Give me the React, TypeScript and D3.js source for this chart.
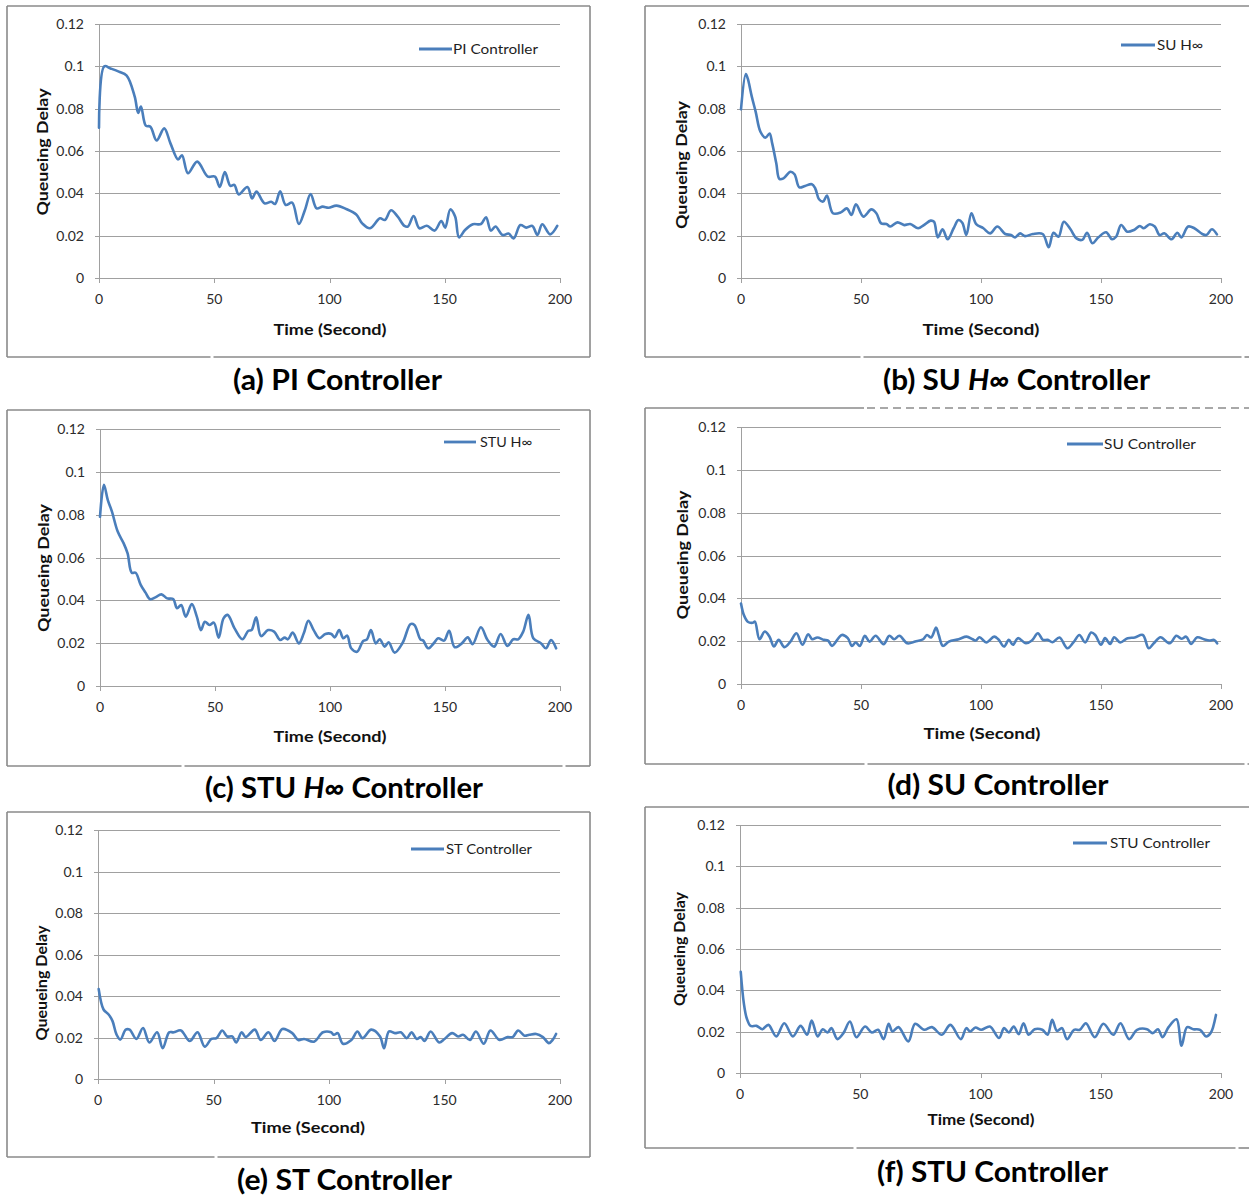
import React from 'react';
import * as d3 from 'd3';

// Shared axis definitions
const timeDomain: [number, number] = [0, 200];
const delayDomain: [number, number] = [0, 0.12];
const timeTicks = [0, 50, 100, 150, 200];
const delayTicks = [0, 0.02, 0.04, 0.06, 0.08, 0.1, 0.12];
const delayTickLabels = ['0', '0.02', '0.04', '0.06', '0.08', '0.1', '0.12'];

// Queueing delay (s) against time (s) for each controller
const piSeries: [number, number][] = [
  [0, 0.071], [2.3, 0.1], [5, 0.099], [8.6, 0.0975], [12, 0.0956], [15.5, 0.0857], [17, 0.078], [18.2, 0.081],
  [20.3, 0.072], [22.3, 0.0715], [25, 0.065], [28.3, 0.0707], [31, 0.0636], [34.3, 0.056], [36, 0.058],
  [38.6, 0.0495], [42.6, 0.055], [47.2, 0.0479], [50.3, 0.0479], [52.4, 0.043], [54.6, 0.05], [57, 0.0435],
  [58.7, 0.044], [60.6, 0.0395], [64.4, 0.043], [66.4, 0.0376], [68.3, 0.0408], [71.8, 0.0353], [74.7, 0.036],
  [76.4, 0.035], [78.6, 0.041], [81, 0.0345], [83.8, 0.0356], [86.7, 0.0255], [89.3, 0.032], [91.8, 0.0397],
  [94.4, 0.0329], [97, 0.0337], [99.6, 0.0332], [103, 0.0342], [107.3, 0.0326], [111.6, 0.03], [114.2, 0.0258],
  [117.6, 0.0235], [121.9, 0.0282], [124, 0.0274], [126.7, 0.032], [129.6, 0.029], [132.5, 0.0246], [134, 0.0243],
  [136.5, 0.0293], [139, 0.0235], [142.2, 0.0247], [145.6, 0.0224], [148.5, 0.0269], [150.2, 0.0238],
  [152.4, 0.0324], [154.5, 0.029], [156.2, 0.0192], [158.8, 0.0227], [162.2, 0.0254], [165.7, 0.0255],
  [167.9, 0.0287], [170, 0.0224], [172, 0.0243], [175.1, 0.0203], [177.7, 0.021], [179.9, 0.0187],
  [182.8, 0.025], [185.4, 0.0238], [188, 0.0246], [190.2, 0.0203], [192.3, 0.0254], [195.7, 0.0206],
  [198.8, 0.0246],
];

const suHinfSeries: [number, number][] = [
  [0, 0.0797], [2, 0.0964], [2.8, 0.0943], [4.5, 0.0857], [6.1, 0.0786], [8.1, 0.0691], [10.2, 0.0663],
  [11.9, 0.0683], [13, 0.0636], [14.7, 0.0542], [16, 0.0468], [17.7, 0.0471], [20.6, 0.0502], [22.3, 0.049],
  [24.3, 0.0428], [26.7, 0.0435], [29.5, 0.0443], [30.9, 0.0424], [32.5, 0.0372], [34.2, 0.0361], [35.8, 0.0389],
  [38.3, 0.0306], [41.6, 0.031], [44.1, 0.0329], [46, 0.0298], [47.9, 0.0348], [51, 0.029], [54.3, 0.0324],
  [56.4, 0.0306], [58.4, 0.0258], [60.6, 0.0255], [62.2, 0.0243], [65.2, 0.0263], [68, 0.025], [70.5, 0.0255],
  [73.8, 0.0235], [76.2, 0.025], [79, 0.0271], [80.4, 0.0266], [82, 0.0192], [84, 0.023], [86.1, 0.0183],
  [88.6, 0.0235], [90.6, 0.0274], [92.2, 0.0261], [93.9, 0.0203], [96, 0.0306], [98, 0.0255], [101, 0.0235],
  [103.8, 0.0211], [106.8, 0.0243], [110.1, 0.0208], [112.5, 0.0203], [114.2, 0.0192], [116.3, 0.0211],
  [118.3, 0.0198], [121.6, 0.0208], [125.7, 0.0208], [128.2, 0.0145], [130.2, 0.0214], [132.3, 0.0195],
  [134.5, 0.0266], [137.3, 0.023], [139.8, 0.0187], [142.2, 0.018], [144.2, 0.0214], [146.4, 0.0164],
  [148.9, 0.0192], [152.1, 0.0216], [154.6, 0.0183], [156.3, 0.0195], [158.4, 0.025], [160.9, 0.0219],
  [163.7, 0.0227], [166.2, 0.0246], [167.8, 0.0235], [170.3, 0.0254], [172.4, 0.0243], [174.4, 0.0203],
  [176.4, 0.0211], [179.4, 0.0183], [181.8, 0.0214], [183.5, 0.0192], [186.3, 0.0243], [188.9, 0.0235],
  [192.2, 0.0208], [193.9, 0.0203], [196.2, 0.023], [198.3, 0.0206],
];

const stuHinfSeries: [number, number][] = [
  [0, 0.079], [1.7, 0.0939], [3.4, 0.0868], [5.2, 0.0814], [7.7, 0.0721], [10.3, 0.0666], [12, 0.0619],
  [13.8, 0.0529], [15.5, 0.0529], [17.7, 0.0472], [19.8, 0.0436], [21.8, 0.0405], [24.1, 0.0414],
  [26.7, 0.0428], [29.2, 0.0409], [31.8, 0.0406], [33.5, 0.0363], [35.3, 0.0378], [37.3, 0.0324],
  [39.9, 0.0383], [42.1, 0.0324], [43.9, 0.0261], [45.6, 0.03], [47.6, 0.0285], [49.5, 0.0296], [51.6, 0.0226],
  [53.7, 0.0316], [55.5, 0.0332], [58.5, 0.0269], [61.9, 0.0218], [64.5, 0.0258], [65.9, 0.0261], [67.9, 0.0321],
  [70, 0.0233], [73.1, 0.0261], [75.7, 0.0254], [78.3, 0.0215], [80.3, 0.0226], [81.7, 0.0218], [83.8, 0.0249],
  [86.5, 0.0199], [88.6, 0.0246], [90.6, 0.0305], [92.9, 0.0261], [95.4, 0.0223], [98, 0.0243], [100.6, 0.0243],
  [102, 0.0227], [104, 0.0261], [105.8, 0.0223], [107.5, 0.0235], [109.2, 0.0176], [111.8, 0.016],
  [114.4, 0.021], [116.1, 0.0218], [117.8, 0.0261], [119.9, 0.0199], [121.6, 0.0218], [123.8, 0.0184],
  [125.5, 0.0204], [128.1, 0.0156], [131.6, 0.0202], [135, 0.0289], [136.7, 0.0285], [139.3, 0.0218],
  [140.5, 0.0212], [142.7, 0.0176], [145.3, 0.0202], [147, 0.0223], [149.6, 0.0212], [151.8, 0.0258],
  [154.2, 0.0181], [157.3, 0.0199], [159.9, 0.0227], [162, 0.0195], [165.6, 0.0274], [168.5, 0.0215],
  [171.4, 0.0184], [174.2, 0.0243], [177.1, 0.0187], [179.7, 0.0218], [181.8, 0.0218], [184, 0.0254],
  [186.3, 0.0332], [188.4, 0.0223], [191.8, 0.0199], [193.9, 0.0176], [196.1, 0.0215], [198.3, 0.0176],
];

const suSeries: [number, number][] = [
  [0, 0.0376], [1.2, 0.0322], [2.8, 0.0291], [4.9, 0.0286], [5.8, 0.0291], [7.7, 0.0209], [9.9, 0.0245],
  [11.9, 0.0221], [13.7, 0.0175], [15.7, 0.0206], [18.1, 0.0172], [20.6, 0.0198], [23.1, 0.0237], [25.6, 0.0183],
  [28, 0.0232], [29.7, 0.0209], [31.8, 0.0217], [34.6, 0.0206], [36.3, 0.0203], [37.9, 0.0178], [42, 0.0229],
  [44.5, 0.0214], [46.2, 0.0178], [47.8, 0.0194], [49.5, 0.0178], [51.6, 0.0225], [53.6, 0.0198], [56.1, 0.0225],
  [59.4, 0.0186], [61.8, 0.0225], [63.8, 0.0209], [66, 0.0225], [69.3, 0.019], [72.6, 0.0198], [75.9, 0.0209],
  [77.5, 0.0229], [79.2, 0.0217], [81.3, 0.0263], [82.4, 0.0229], [84.1, 0.0178], [86.6, 0.0198], [90.7, 0.0209],
  [94, 0.0221], [96.5, 0.0209], [97.8, 0.0203], [99.4, 0.0218], [102.2, 0.0194], [105.5, 0.0221], [107.2, 0.0209],
  [109.6, 0.0175], [111.6, 0.0206], [113.3, 0.0183], [115.4, 0.0214], [118.7, 0.019], [121.2, 0.0203],
  [123.7, 0.0237], [125.8, 0.0206], [127.8, 0.0206], [129.8, 0.0195], [132.7, 0.0217], [136, 0.0167],
  [138.5, 0.0194], [141, 0.0229], [143.4, 0.0194], [145.9, 0.024], [147.6, 0.0229], [150, 0.0183],
  [151.7, 0.0214], [153.8, 0.0187], [155.5, 0.0218], [158, 0.0194], [161.1, 0.0214], [164.1, 0.0217],
  [167.4, 0.0229], [169.9, 0.0167], [172, 0.019], [174.8, 0.0218], [178.6, 0.019], [181.4, 0.0225],
  [183.5, 0.0211], [185.5, 0.0221], [187.5, 0.0187], [190.1, 0.0218], [192.9, 0.0209], [195.1, 0.0203],
  [197.1, 0.0206], [198.4, 0.019],
];

const stSeries: [number, number][] = [
  [0.3, 0.0433], [2.4, 0.0335], [4.6, 0.0311], [6.3, 0.0279], [8, 0.0215], [9.7, 0.019], [12, 0.0238],
  [13.7, 0.0238], [16.6, 0.0193], [19.5, 0.0246], [22.2, 0.0176], [25.6, 0.0225], [28, 0.0148], [30.8, 0.0225],
  [32.8, 0.0225], [35.9, 0.0234], [39.7, 0.0183], [43.1, 0.0225], [46.2, 0.0156], [49.1, 0.0193], [51.3, 0.0197],
  [53.8, 0.0234], [55.9, 0.0205], [58.1, 0.0205], [59.8, 0.0176], [62.2, 0.0225], [63.9, 0.0202], [67.9, 0.0238],
  [70.4, 0.0188], [73.8, 0.0225], [76.4, 0.0183], [79.8, 0.0241], [84.1, 0.0221], [86.7, 0.0188], [89.2, 0.0193],
  [93.5, 0.018], [97.4, 0.0225], [100.9, 0.0225], [102.1, 0.0213], [103.8, 0.0221], [106, 0.017], [109.7, 0.0188],
  [112.3, 0.0229], [114.5, 0.0197], [118.3, 0.0238], [122.1, 0.0205], [123.8, 0.0148], [126, 0.0229],
  [128.5, 0.0221], [131.1, 0.0225], [133.7, 0.0197], [135.7, 0.0225], [138, 0.0193], [139.7, 0.0202],
  [141.4, 0.0183], [144, 0.0229], [147.7, 0.0176], [150, 0.0193], [153.3, 0.0221], [155.9, 0.0205],
  [158, 0.0213], [161, 0.0188], [163.6, 0.0229], [167, 0.017], [169.9, 0.0234], [173.8, 0.0188], [177.3, 0.0202],
  [179.5, 0.0202], [181.9, 0.0234], [184.6, 0.0209], [186.7, 0.0213], [189.7, 0.0217], [192.6, 0.0202],
  [195.2, 0.0173], [196.9, 0.019], [198.3, 0.0217],
];

const stuSeries: [number, number][] = [
  [0.3, 0.049], [1.6, 0.0337], [2.8, 0.0265], [4.4, 0.0228], [6.9, 0.0228], [9.3, 0.0212], [11.8, 0.0233],
  [15.1, 0.0177], [18.4, 0.0241], [22, 0.0177], [25.2, 0.0228], [27.9, 0.0185], [29.8, 0.0254], [32.3, 0.0177],
  [34.4, 0.0212], [36.4, 0.0196], [38, 0.0217], [40.5, 0.0164], [43, 0.0193], [45.7, 0.0249], [48.4, 0.0173],
  [52, 0.0225], [54.8, 0.0196], [57.4, 0.0209], [59.7, 0.0164], [61.8, 0.0238], [63.4, 0.0201], [65.9, 0.0222],
  [70, 0.0153], [72.8, 0.0238], [76.6, 0.0209], [79.8, 0.0222], [83.9, 0.0185], [87.5, 0.0233], [91.8, 0.0164],
  [94.1, 0.0217], [95.7, 0.0201], [97.9, 0.022], [100.3, 0.0209], [103.9, 0.0225], [107.7, 0.0169],
  [109.8, 0.0217], [111.8, 0.0196], [113.8, 0.0225], [115.9, 0.0188], [117.9, 0.0241], [120, 0.0185],
  [122.5, 0.0212], [125.7, 0.0209], [127.9, 0.0185], [129.8, 0.0257], [131.8, 0.0204], [133.9, 0.0217],
  [136, 0.0164], [138.9, 0.0209], [141.3, 0.0209], [143.8, 0.0241], [147.5, 0.0173], [151.1, 0.0238],
  [155.2, 0.0185], [158.2, 0.0241], [161.8, 0.0164], [165.1, 0.0209], [169.2, 0.0212], [171.6, 0.0193],
  [173.8, 0.0212], [175.7, 0.0173], [178.2, 0.0222], [181.5, 0.026], [183.6, 0.0132], [185.9, 0.0222],
  [188.5, 0.0212], [191.3, 0.0209], [193.8, 0.0177], [195.7, 0.0193], [197.9, 0.0281],
];

const seriesNames = ['PI Controller', 'SU H∞', 'STU H∞', 'SU Controller', 'ST Controller', 'STU Controller'];
const captionLabels = ['(a) PI ', '(b) SU ', '(c) STU ', '(d) SU ', '(e) ST ', '(f) STU '];
const captionItalic = ['', 'H∞', 'H∞', '', '', ''];
const yAxisTitle = 'Queueing Delay';
const xAxisTitle = 'Time (Second)';

type Box = { l: number; t: number; r: number; b: number };
type Layout = {
  frame: Box;
  bottomGaps: number[];
  dashedTopFrom?: number;
  plot: Box;
  legend: { x: number; y: number; len: number; tx: number; tw: number };
  yTitle: { x: number; y: number; w: number; size: number };
  xTitle: { x: number; y: number; w: number; size: number };
  caption: { x: number; y: number; w: number };
};

const layouts: Layout[] = [
  {
    frame: { l: 7, t: 6, r: 590, b: 357 }, bottomGaps: [212],
    plot: { l: 99, t: 24, r: 560, b: 278 },
    legend: { x: 419, y: 49, len: 33, tx: 453, tw: 85 },
    yTitle: { x: 48, y: 152, w: 127, size: 16 },
    xTitle: { x: 330, y: 335, w: 113, size: 16 },
    caption: { x: 337.5, y: 390, w: 209 },
  },
  {
    frame: { l: 645, t: 6, r: 1262, b: 357 }, bottomGaps: [862, 1243],
    plot: { l: 741, t: 24, r: 1221, b: 278 },
    legend: { x: 1121, y: 45, len: 34, tx: 1157, tw: 46 },
    yTitle: { x: 687, y: 165, w: 128, size: 16 },
    xTitle: { x: 981, y: 335, w: 117, size: 16 },
    caption: { x: 1016.5, y: 390, w: 267 },
  },
  {
    frame: { l: 7, t: 410, r: 590, b: 766 }, bottomGaps: [183, 564],
    plot: { l: 100, t: 429, r: 560, b: 686 },
    legend: { x: 444, y: 442, len: 32, tx: 480, tw: 52 },
    yTitle: { x: 49, y: 568, w: 128, size: 16 },
    xTitle: { x: 330, y: 742, w: 113, size: 16 },
    caption: { x: 344, y: 798, w: 278 },
  },
  {
    frame: { l: 645, t: 408, r: 1262, b: 764 }, bottomGaps: [866, 1246], dashedTopFrom: 864,
    plot: { l: 741, t: 427, r: 1221, b: 684 },
    legend: { x: 1067, y: 444, len: 36, tx: 1104, tw: 92 },
    yTitle: { x: 688, y: 555, w: 129, size: 16 },
    xTitle: { x: 982, y: 739, w: 117, size: 16 },
    caption: { x: 998, y: 795, w: 221 },
  },
  {
    frame: { l: 7, t: 812, r: 590, b: 1157 }, bottomGaps: [216],
    plot: { l: 98, t: 830, r: 560, b: 1079 },
    legend: { x: 411, y: 849, len: 33, tx: 446, tw: 86 },
    yTitle: { x: 47, y: 983, w: 115, size: 14.5 },
    xTitle: { x: 308, y: 1133, w: 114, size: 16 },
    caption: { x: 344.5, y: 1190, w: 215 },
  },
  {
    frame: { l: 645, t: 807, r: 1262, b: 1148 }, bottomGaps: [855, 1237],
    plot: { l: 740, t: 825, r: 1221, b: 1073 },
    legend: { x: 1073, y: 843, len: 34, tx: 1110, tw: 100 },
    yTitle: { x: 685, y: 949, w: 114, size: 14.5 },
    xTitle: { x: 981, y: 1125, w: 107, size: 15 },
    caption: { x: 992.5, y: 1182, w: 231 },
  },
];

const allSeries = [piSeries, suHinfSeries, stuHinfSeries, suSeries, stSeries, stuSeries];

const FONT = 'Lato, "Open Sans", sans-serif';
const LINE_COLOR = '#4a7ebb';
const GRID_COLOR = '#a0a0a0';
const FRAME_COLOR = '#8a8a8a';

function Frame({ lay }: { lay: Layout }) {
  const { frame, bottomGaps, dashedTopFrom } = lay;
  const stops = [frame.l, ...bottomGaps, frame.r];
  const bottomSegments = [] as [number, number][];
  for (let i = 0; i < stops.length - 1; i++) {
    const a = i === 0 ? stops[i] : stops[i] + 1.5;
    const b = i === stops.length - 2 ? stops[i + 1] : stops[i + 1] - 1.5;
    bottomSegments.push([a, b]);
  }
  const topEnd = dashedTopFrom ?? frame.r;
  return (
    <g stroke={FRAME_COLOR} strokeWidth={1.6} fill="none">
      <line x1={frame.l} y1={frame.t} x2={frame.l} y2={frame.b} />
      <line x1={frame.l} y1={frame.t} x2={topEnd} y2={frame.t} />
      {dashedTopFrom !== undefined && (
        <line x1={dashedTopFrom + 3} y1={frame.t} x2={frame.r} y2={frame.t} strokeDasharray="8 5" stroke="#8c8c8c" strokeWidth={1.4} />
      )}
      <line x1={frame.r} y1={frame.t} x2={frame.r} y2={frame.b} />
      {bottomSegments.map(([a, b], i) => (
        <line key={i} x1={a} y1={frame.b} x2={b} y2={frame.b} />
      ))}
    </g>
  );
}

function Panel({ index }: { index: number }) {
  const lay = layouts[index];
  const data = allSeries[index];
  const { plot } = lay;
  const x = d3.scaleLinear().domain(timeDomain).range([plot.l, plot.r]);
  const y = d3.scaleLinear().domain(delayDomain).range([plot.b, plot.t]);
  const path = d3
    .line<[number, number]>()
    .x((d) => x(d[0]))
    .y((d) => y(d[1]))
    .curve(d3.curveCatmullRom.alpha(0.5))(data) as string;

  return (
    <g>
      <Frame lay={lay} />
      {/* horizontal gridlines with short ticks left of the axis */}
      {delayTicks.map((v, i) => (
        <g key={'y' + i}>
          <line x1={plot.l - 4} x2={plot.r} y1={Math.round(y(v)) + 0.5} y2={Math.round(y(v)) + 0.5}
            stroke={GRID_COLOR} strokeWidth={1} />
          <text x={plot.l - 15} y={y(v) + 5} textAnchor="end" fontFamily={FONT} fontSize={14} fill="#2b2b2b">
            {delayTickLabels[i]}
          </text>
        </g>
      ))}
      {/* vertical axis */}
      <line x1={Math.round(plot.l) + 0.5} x2={Math.round(plot.l) + 0.5} y1={y(0.12)} y2={y(0) + 5}
        stroke={GRID_COLOR} strokeWidth={1} />
      {timeTicks.map((t, i) => (
        <g key={'x' + i}>
          <line x1={Math.round(x(t)) + 0.5} x2={Math.round(x(t)) + 0.5} y1={y(0)} y2={y(0) + 5}
            stroke={GRID_COLOR} strokeWidth={1} />
          <text x={x(t)} y={y(0) + 26} textAnchor="middle" fontFamily={FONT} fontSize={14} fill="#2b2b2b">
            {t}
          </text>
        </g>
      ))}
      {/* series */}
      <path d={path} fill="none" stroke={LINE_COLOR} strokeWidth={2.6} strokeLinejoin="round" strokeLinecap="round" />
      {/* legend */}
      <line x1={lay.legend.x} x2={lay.legend.x + lay.legend.len} y1={lay.legend.y} y2={lay.legend.y}
        stroke={LINE_COLOR} strokeWidth={2.8} />
      <text x={lay.legend.tx} y={lay.legend.y + 5} fontFamily={FONT} fontSize={14} fill="#1e1e1e"
        textLength={lay.legend.tw} lengthAdjust="spacingAndGlyphs">
        {seriesNames[index]}
      </text>
      {/* axis titles */}
      <text transform={`translate(${lay.yTitle.x},${lay.yTitle.y}) rotate(-90)`} textAnchor="middle"
        fontFamily={FONT} fontWeight={700} fontSize={lay.yTitle.size} fill="#111"
        textLength={lay.yTitle.w} lengthAdjust="spacingAndGlyphs">
        {yAxisTitle}
      </text>
      <text x={lay.xTitle.x} y={lay.xTitle.y} textAnchor="middle" fontFamily={FONT} fontWeight={700}
        fontSize={lay.xTitle.size} fill="#111" textLength={lay.xTitle.w} lengthAdjust="spacingAndGlyphs">
        {xAxisTitle}
      </text>
      {/* caption */}
      <text x={lay.caption.x} y={lay.caption.y} textAnchor="middle" fontFamily={FONT} fontWeight={700}
        fontSize={28} fill="#000" textLength={lay.caption.w} lengthAdjust="spacingAndGlyphs">
        {captionLabels[index]}
        {captionItalic[index] && <tspan fontStyle="italic">{captionItalic[index]}</tspan>}
        {captionItalic[index] ? ' Controller' : 'Controller'}
      </text>
    </g>
  );
}

export default function App() {
  return (
    <svg width={1249} height={1196} viewBox="0 0 1249 1196"
      style={{ position: 'absolute', left: 0, top: 0, background: '#fff' }}>
      <rect x={0} y={0} width={1249} height={1196} fill="#fff" />
      {layouts.map((_, i) => (
        <Panel key={i} index={i} />
      ))}
    </svg>
  );
}
